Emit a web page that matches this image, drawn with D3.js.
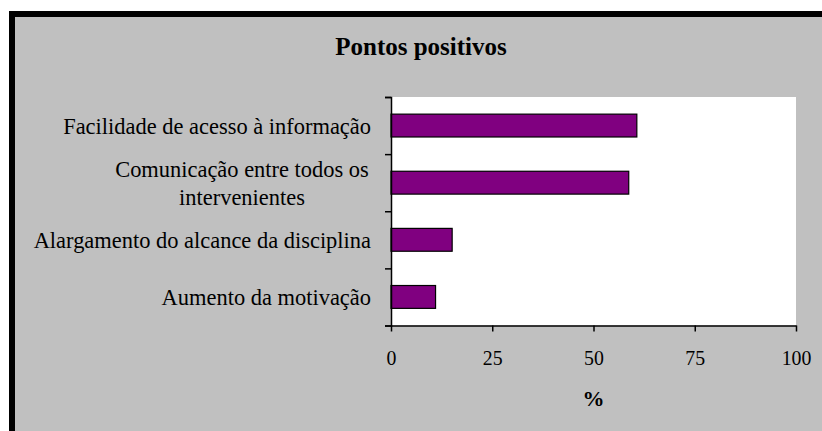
<!DOCTYPE html>
<html>
<head>
<meta charset="utf-8">
<script src="https://cdn.jsdelivr.net/npm/d3@7"></script>
<style>
  body { margin: 0; background: #fff; }
  text { font-family: "Liberation Serif", "Times New Roman", serif; fill: #000; }
</style>
</head>
<body>
<div id="chart"></div>
<script>
// data
const categories = [
    'Facilidade de acesso à informação',
    'Comunicação entre todos os\nintervenientes',
    'Alargamento do alcance da disciplina',
    'Aumento da motivação'
];
const values = [60.7, 58.7, 15.1, 11.0];
const xTicks = [0, 25, 50, 75, 100];
const title = 'Pontos positivos';
const xTitle = '%';

const width = 822,
    height = 431,
    plot = { left: 391, right: 796, top: 97, bottom: 325.5 };

// the original text is a bit taller than it is wide, squeeze horizontally
function squeeze(sel, k) {
    sel.each(function () {
        const w = this.getComputedTextLength();
        d3.select(this)
            .attr('textLength', w * k)
            .attr('lengthAdjust', 'spacingAndGlyphs');
    });
}

const svg = d3.select('#chart')
    .append('svg')
    .attr('width', width)
    .attr('height', height);

// frame: thick black border on left/top, grey chart area
svg.append('rect')
    .attr('x', 9).attr('y', 11)
    .attr('width', width).attr('height', height)
    .attr('fill', '#000');
svg.append('rect')
    .attr('x', 15).attr('y', 17)
    .attr('width', width).attr('height', height)
    .attr('fill', '#c0c0c0');

const x = d3.scaleLinear()
    .domain([0, 100])
    .range([plot.left, plot.right]);

const y = d3.scaleBand()
    .domain(d3.range(categories.length))
    .range([plot.top, plot.bottom])
    .paddingInner(0.6)
    .paddingOuter(0.3);

// index scale used only for the category separator ticks
const yIdx = d3.scaleLinear()
    .domain([0, categories.length])
    .range([plot.top, plot.bottom]);

// plot area
svg.append('rect')
    .attr('x', plot.left).attr('y', plot.top)
    .attr('width', plot.right - plot.left)
    .attr('height', plot.bottom - plot.top)
    .attr('fill', '#fff');

// bars
svg.append('g')
    .selectAll('rect')
    .data(values)
    .join('rect')
    .attr('x', x(0))
    .attr('y', (d, i) => y(i))
    .attr('width', d => x(d) - x(0))
    .attr('height', y.bandwidth())
    .attr('fill', '#800080')
    .attr('stroke', '#000')
    .attr('stroke-width', 1.2);

// y axis (ticks between categories)
const yAxis = svg.append('g')
    .attr('transform', `translate(${plot.left},0)`)
    .call(d3.axisLeft(yIdx).ticks(categories.length).tickSize(6).tickFormat(''));
yAxis.select('.domain').attr('stroke-width', 1.5);
yAxis.selectAll('.tick line').attr('stroke-width', 1.5);

// x axis
const xAxis = svg.append('g')
    .attr('transform', `translate(0,${plot.bottom})`)
    .call(d3.axisBottom(x).tickValues(xTicks).tickSize(6).tickSizeOuter(0));
xAxis.select('.domain').attr('stroke-width', 1.5);
xAxis.selectAll('.tick line').attr('stroke-width', 1.5);
xAxis.selectAll('.tick text')
    .attr('y', 39.5)
    .attr('dy', 0)
    .attr('font-size', 22)
    .attr('font-family', '"Liberation Serif", serif')
    .attr('fill', '#000')
    .call(squeeze, 0.9);

// category labels
const lineH = 28.3;
svg.append('g')
    .selectAll('text')
    .data(categories)
    .join('text')
    .attr('font-size', 23.5)
    .each(function (d, i) {
        const lines = d.split('\n');
        const cy = y(i) + y.bandwidth() / 2;
        const multi = lines.length > 1;
        d3.select(this)
            .attr('text-anchor', multi ? 'middle' : 'end')
            .selectAll('tspan')
            .data(lines)
            .join('tspan')
            .attr('x', multi ? 242 : 371)
            .attr('y', (l, j) => cy + 8 + (j - (lines.length - 1) / 2) * lineH)
            .text(l => l)
            .call(squeeze, 0.955);
    });

// titles
svg.append('text')
    .attr('x', 421)
    .attr('y', 55)
    .attr('text-anchor', 'middle')
    .attr('font-size', 25)
    .attr('font-weight', 'bold')
    .text(title);

svg.append('text')
    .attr('x', x(50))
    .attr('y', 406)
    .attr('text-anchor', 'middle')
    .attr('font-size', 22)
    .attr('font-weight', 'bold')
    .text(xTitle);
</script>
</body>
</html>
